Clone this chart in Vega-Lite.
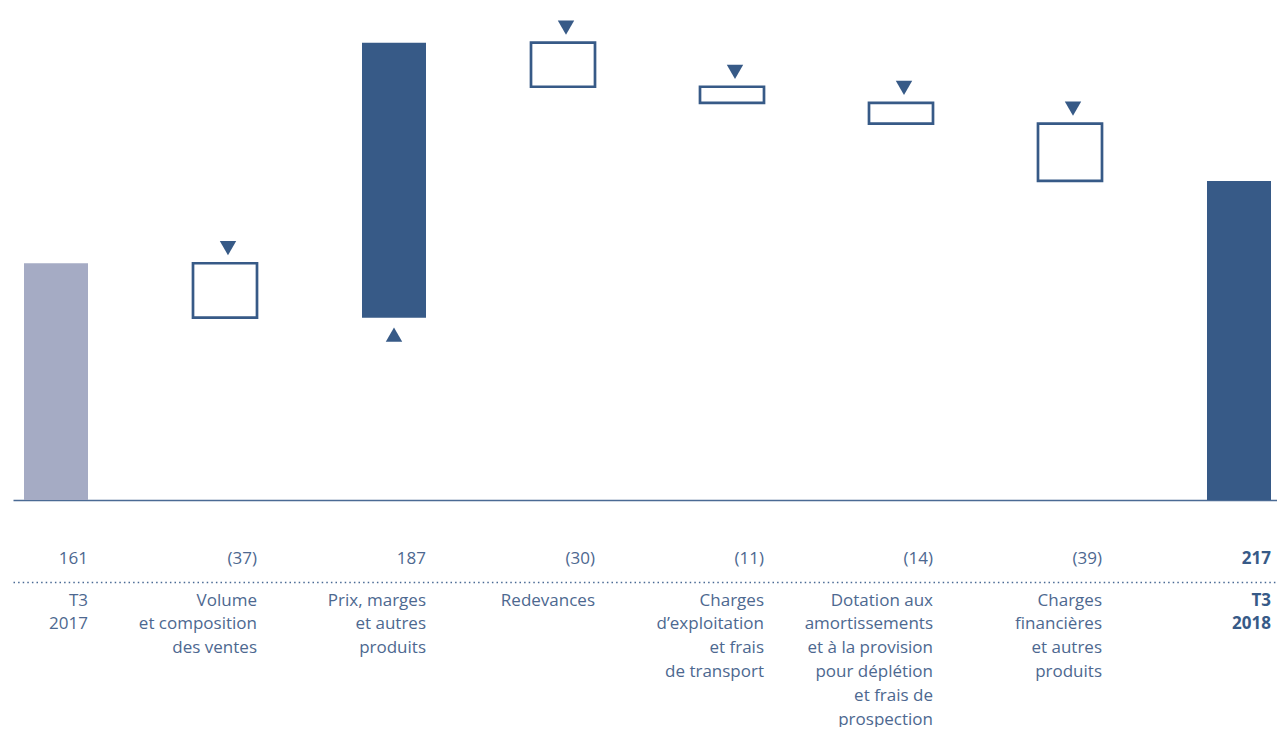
{
  "$schema": "https://vega.github.io/schema/vega-lite/v6.json",
  "padding": {"left": 13, "top": 0, "right": 0, "bottom": 0},
  "autosize": {"type": "pad"},
  "background": "white",
  "config": {"view": {"stroke": null}, "font": "Open Sans"},
  "datasets": {
    "d": [
      {"idx": 1, "cat": "T3\n2017", "label": "161", "start": 0, "end": 161, "kind": "start"},
      {"idx": 2, "cat": "Volume\net composition\ndes ventes", "label": "(37)", "start": 161, "end": 124, "kind": "decrease"},
      {"idx": 3, "cat": "Prix, marges\net autres\nproduits", "label": "187", "start": 124, "end": 311, "kind": "increase"},
      {"idx": 4, "cat": "Redevances", "label": "(30)", "start": 311, "end": 281, "kind": "decrease"},
      {"idx": 5, "cat": "Charges\nd’exploitation\net frais\nde transport", "label": "(11)", "start": 281, "end": 270, "kind": "decrease"},
      {"idx": 6, "cat": "Dotation aux\namortissements\net à la provision\npour déplétion\net frais de\nprospection", "label": "(14)", "start": 270, "end": 256, "kind": "decrease"},
      {"idx": 7, "cat": "Charges\nfinancières\net autres\nproduits", "label": "(39)", "start": 256, "end": 217, "kind": "decrease"},
      {"idx": 8, "cat": "T3\n2018", "label": "217", "start": 0, "end": 217, "kind": "end"}
    ]
  },
  "spacing": 36,
  "vconcat": [
    {
      "width": 1264,
      "height": 500,
      "data": {"name": "d"},
      "encoding": {
        "x": {
          "field": "cat", "type": "nominal", "sort": {"field": "idx", "op": "min"},
          "scale": {"type": "band", "paddingInner": 0.6213, "paddingOuter": 0.0503, "align": 0.647},
          "axis": {"labels": false, "ticks": false, "title": null, "domainColor": "#4a6a94", "domainWidth": 1.5}
        },
        "y": {"field": "end", "type": "quantitative", "scale": {"domain": [0, 340], "nice": false}, "axis": null}
      },
      "layer": [
        {
          "mark": {"type": "bar", "strokeWidth": 2.7},
          "encoding": {
            "y2": {"field": "start"},
            "fill": {"field": "kind", "type": "nominal", "scale": {"domain": ["start", "increase", "decrease", "end"], "range": ["#a5abc4", "#375a87", "#ffffff", "#375a87"]}, "legend": null},
            "stroke": {"condition": {"test": "datum.kind == 'decrease'", "value": "#375a87"}, "value": null}
          }
        },
        {
          "transform": [{"filter": "datum.kind == 'decrease'"}],
          "mark": {"type": "point", "shape": "triangle-down", "filled": true, "size": 270, "color": "#375a87", "opacity": 1, "yOffset": -15, "xOffset": 3},
          "encoding": {"y": {"field": "start", "type": "quantitative"}}
        },
        {
          "transform": [{"filter": "datum.kind == 'increase'"}],
          "mark": {"type": "point", "shape": "triangle-up", "filled": true, "size": 270, "color": "#375a87", "opacity": 1, "yOffset": 17},
          "encoding": {"y": {"field": "start", "type": "quantitative"}}
        }
      ]
    },
    {
      "width": 1264,
      "height": 46,
      "data": {"name": "d"},
      "encoding": {
        "x": {
          "field": "cat", "type": "nominal", "sort": {"field": "idx", "op": "min"}, "bandPosition": 1,
          "scale": {"type": "band", "paddingInner": 0.6213, "paddingOuter": 0.0503, "align": 0.647},
          "axis": {
            "orient": "bottom", "title": null, "ticks": false,
            "domainDash": [1.5, 3.1], "domainColor": "#4a6a94", "domainWidth": 1.5,
            "labelExpr": "split(datum.value, '\\n')",
            "labelAngle": 0,
            "labelAlign": "right", "labelOffset": 32, "labelPadding": 10,
            "labelFont": "Open Sans", "labelFontSize": 17, "labelLineHeight": 23.8,
            "labelBaseline": "top",
            "labelColor": {"condition": {"test": "indexof(datum.value, '2018') >= 0", "value": "#375a87"}, "value": "#4d6890"},
            "labelFontWeight": {"condition": {"test": "indexof(datum.value, '2018') >= 0", "value": "bold"}, "value": "normal"},
            "labelOverlap": false, "labelBound": false, "labelLimit": 400
          }
        },
        "text": {"field": "label"}
      },
      "layer": [
        {
          "transform": [{"filter": "datum.kind != 'end'"}],
          "mark": {"type": "text", "align": "right", "baseline": "middle", "font": "Open Sans", "fontSize": 17, "color": "#4d6890"}
        },
        {
          "transform": [{"filter": "datum.kind == 'end'"}],
          "mark": {"type": "text", "align": "right", "baseline": "middle", "font": "Open Sans", "fontSize": 17, "fontWeight": "bold", "color": "#375a87"}
        }
      ]
    }
  ]
}
